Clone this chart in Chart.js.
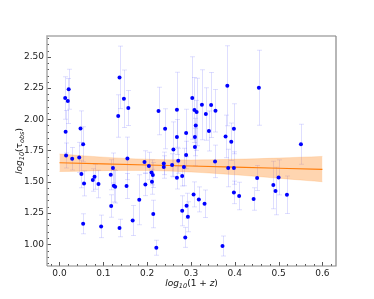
<!DOCTYPE html>
<html><head><meta charset="utf-8">
<script src="https://cdn.jsdelivr.net/npm/chart.js@4"></script>
<style>html,body{margin:0;padding:0;background:#fff}canvas{display:block}</style>
</head><body>
<canvas id="c" width="374" height="299"></canvas>
<script>
const xVals=[0.013,0.021,0.019,0.014,0.015,0.029,0.045,0.048,0.054,0.050,0.056,0.054,0.076,0.080,0.089,0.095,
0.137,0.147,0.157,0.134,0.155,0.122,0.117,0.124,0.127,0.153,0.118,0.137,0.167,0.182,
0.194,0.204,0.196,0.210,0.213,0.211,0.214,0.221,0.226,0.241,0.238,0.238,0.257,0.260,0.268,0.268,0.271,0.268,
0.280,0.284,0.289,0.289,0.280,0.290,0.293,0.287,0.303,0.308,0.313,0.311,0.309,0.309,0.306,0.318,0.331,
0.325,0.334,0.341,0.346,0.356,0.355,0.383,0.455,0.379,0.398,0.392,0.385,0.398,0.398,0.410,0.372,
0.451,0.443,0.488,0.493,0.500,0.519,0.551];
const yVals=[2.17,2.24,2.146,1.90,1.71,1.684,1.695,1.927,1.80,1.562,1.487,1.164,1.514,1.54,1.482,1.143,
2.335,2.164,2.09,2.026,1.687,1.61,1.556,1.468,1.46,1.466,1.306,1.13,1.19,1.356,
1.658,1.626,1.479,1.575,1.554,1.50,1.242,0.972,2.066,1.924,1.647,1.618,1.634,1.759,2.076,1.858,1.668,1.532,
1.546,1.618,1.714,1.89,1.268,1.308,1.22,1.055,2.17,2.074,2.058,1.951,1.858,1.778,1.399,1.359,1.324,
2.116,2.042,1.906,2.114,2.068,1.663,2.268,2.252,1.863,1.924,1.82,1.61,1.61,1.415,1.386,0.986,
1.530,1.362,1.474,1.426,1.535,1.396,1.80];
const yErr=[0.17,0.16,0.18,0.17,0.10,0.09,0.12,0.14,0.14,0.11,0.10,0.08,0.09,0.10,0.11,0.09,
0.25,0.23,0.14,0.17,0.17,0.12,0.12,0.13,0.13,0.10,0.09,0.07,0.12,0.20,
0.09,0.11,0.09,0.10,0.10,0.10,0.11,0.06,0.19,0.16,0.09,0.09,0.09,0.22,0.30,0.14,0.10,0.09,
0.08,0.15,0.11,0.19,0.12,0.10,0.12,0.08,0.33,0.26,0.27,0.20,0.15,0.15,0.10,0.10,0.11,
0.28,0.21,0.16,0.26,0.17,0.13,0.32,0.30,0.17,0.20,0.15,0.15,0.13,0.09,0.11,0.08,
0.10,0.09,0.19,0.19,0.14,0.15,0.16];
const fitX=[0,0.1,0.2,0.3,0.4,0.5,0.6];
const fitY=[1.652,1.643,1.634,1.626,1.617,1.608,1.599];
const bandUpper=[1.722,1.697,1.680,1.675,1.680,1.690,1.703];
const bandLower=[1.582,1.589,1.590,1.578,1.556,1.528,1.500];
const xTicks=[0,0.1,0.2,0.3,0.4,0.5,0.6];
const yTicks=[1.0,1.25,1.5,1.75,2.0,2.25,2.5];

const pts=xVals.map((x,i)=>({x:x,y:yVals[i]}));
const toXY=(xs,ys)=>xs.map((x,i)=>({x:x,y:ys[i]}));

const errPlugin={id:'err',beforeDatasetsDraw(chart){
  const ctx=chart.ctx,xs=chart.scales.x,ys=chart.scales.y;
  ctx.save();ctx.strokeStyle='rgba(0,0,255,0.13)';ctx.lineWidth=1;
  pts.forEach((p,i)=>{
    const px=Math.round(xs.getPixelForValue(p.x))+0.5;
    const y1=ys.getPixelForValue(p.y+yErr[i]),y2=ys.getPixelForValue(p.y-yErr[i]);
    ctx.beginPath();ctx.moveTo(px,y1);ctx.lineTo(px,y2);
    ctx.moveTo(px-2.5,y1);ctx.lineTo(px+2.5,y1);
    ctx.moveTo(px-2.5,y2);ctx.lineTo(px+2.5,y2);ctx.stroke();
  });
  ctx.restore();
}};

function drawRich(ctx,segs,cx,cy){
  let w=0;
  segs.forEach(s=>{ctx.font=(s.it?'italic ':'')+s.size+'px "DejaVu Sans"';s.w=ctx.measureText(s.t).width;w+=s.w;});
  let x=cx-w/2;ctx.textAlign='left';ctx.textBaseline='alphabetic';
  segs.forEach(s=>{ctx.font=(s.it?'italic ':'')+s.size+'px "DejaVu Sans"';ctx.fillText(s.t,x,cy+(s.dy||0));x+=s.w;});
}

const framePlugin={id:'frame',afterDraw(chart){
  const ctx=chart.ctx,a=chart.chartArea,xs=chart.scales.x,ys=chart.scales.y;
  ctx.save();
  ctx.lineWidth=1;ctx.strokeStyle='#555';
  ctx.beginPath();
  for(let v=-0.02;v<=0.625;v+=0.02){
    const px=Math.round(xs.getPixelForValue(v))+0.5;
    const major=Math.abs(v*10-Math.round(v*10))<1e-6;
    ctx.moveTo(px,a.bottom);ctx.lineTo(px,a.bottom-(major?4:2));
  }
  for(let v=0.85;v<=2.66;v+=0.05){
    const py=Math.round(ys.getPixelForValue(v))+0.5;
    const major=Math.abs(v*4-Math.round(v*4))<1e-6;
    ctx.moveTo(a.left,py);ctx.lineTo(a.left+(major?4:2),py);
  }
  ctx.stroke();
  ctx.strokeStyle='#aaa';ctx.lineWidth=1.5;
  ctx.beginPath();ctx.moveTo(a.left,a.bottom);ctx.lineTo(a.left,a.top);ctx.lineTo(a.right,a.top);ctx.stroke();
  ctx.strokeStyle='#888';ctx.lineWidth=1.2;
  ctx.beginPath();ctx.moveTo(a.right,a.top);ctx.lineTo(a.right,a.bottom);ctx.lineTo(a.left,a.bottom);ctx.stroke();
  ctx.fillStyle='#111';
  drawRich(ctx,[{t:'log',size:9,it:true},{t:'10',size:6.5,it:true,dy:2},{t:'(1 + ',size:9},{t:'z',size:9,it:true},{t:')',size:9}],(a.left+a.right)/2,286);
  ctx.translate(22,(a.top+a.bottom)/2);ctx.rotate(-Math.PI/2);
  drawRich(ctx,[{t:'log',size:9,it:true},{t:'10',size:6.5,it:true,dy:2},{t:'(τ',size:9},{t:'obs',size:6.5,it:true,dy:2},{t:')',size:9}],0,0);
  ctx.restore();
}};

new Chart(document.getElementById('c'),{
  type:'scatter',
  data:{datasets:[
    {data:pts,backgroundColor:'#0000ff',borderColor:'#0000ff',pointRadius:2,pointBorderWidth:0,pointHoverRadius:2},
    {data:toXY(fitX,fitY),showLine:true,borderColor:'#ff7f0e',borderWidth:1.2,pointRadius:0,fill:false},
    {data:toXY(fitX,bandUpper),showLine:true,borderColor:'rgba(255,127,14,0.35)',borderWidth:0.5,pointRadius:0,tension:0.35,backgroundColor:'rgba(255,127,14,0.33)',fill:'+1'},
    {data:toXY(fitX,bandLower),showLine:true,borderColor:'rgba(255,127,14,0.35)',borderWidth:0.5,pointRadius:0,tension:0.35,fill:false}
  ]},
  options:{
    responsive:false,animation:false,devicePixelRatio:1,
    layout:{padding:{top:36,right:38,left:0,bottom:0}},
    plugins:{legend:{display:false},tooltip:{enabled:false}},
    scales:{
      x:{type:'linear',min:-0.0285,max:0.631,
        afterBuildTicks:s=>{s.ticks=xTicks.map(v=>({value:v}));},
        afterFit:s=>{s.height=33;},
        ticks:{callback:v=>v.toFixed(1),font:{family:'DejaVu Sans',size:9},color:'#222',maxRotation:0,autoSkip:false,padding:2},
        grid:{display:false,drawTicks:false},border:{display:false}},
      y:{type:'linear',min:0.826,max:2.666,
        afterBuildTicks:s=>{s.ticks=yTicks.map(v=>({value:v}));},
        afterFit:s=>{s.width=47;},
        ticks:{callback:v=>v.toFixed(2),font:{family:'DejaVu Sans',size:9},color:'#222',autoSkip:false,padding:3},
        grid:{display:false,drawTicks:false},border:{display:false}}
    }
  },
  plugins:[errPlugin,framePlugin]
});
</script>
</body></html>
